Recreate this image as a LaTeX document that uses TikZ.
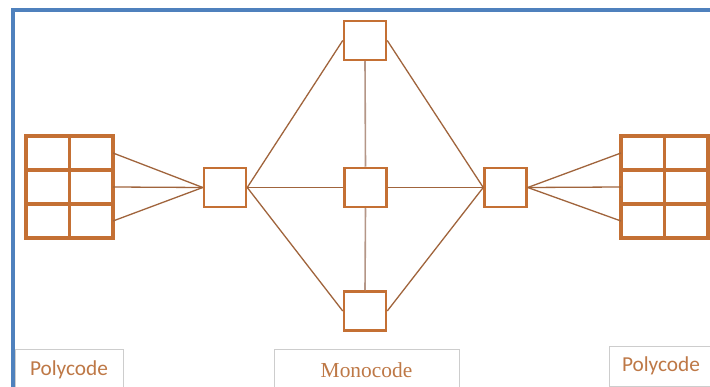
\documentclass[tikz,border=0pt]{standalone}
\usepackage{fontspec}
\setmainfont{Carlito}
\newfontfamily\serifmono{Liberation Serif}
\definecolor{boxc}{RGB}{196,112,52}
\definecolor{linec}{RGB}{160,100,60}
\definecolor{vlinec}{RGB}{180,150,135}
\definecolor{txtc}{RGB}{190,120,70}
\definecolor{framec}{RGB}{79,129,189}
\definecolor{lblc}{RGB}{205,205,205}
\tikzset{
  cell/.style={draw=boxc, line width=3.2pt, fill=white, minimum width=43.5pt, minimum height=34pt, inner sep=0pt, outer sep=0pt},
  sbox/.style={draw=boxc, line width=2.5pt, fill=white, minimum width=42pt, minimum height=39pt, inner sep=0pt},
  conn/.style={draw=linec, line width=1.3pt},
  vconn/.style={draw=vlinec, line width=1.6pt},
  lbl/.style={draw=lblc, line width=0.8pt, text=txtc, inner sep=0pt, font=\fontsize{21.3}{24}\selectfont},
}
\begin{document}
\begin{tikzpicture}[x=1pt,y=-1pt]
\useasboundingbox (0,0) rectangle (710,387);
\fill[white] (0,0) rectangle (710,387);
% frame
\draw[framec, line width=4pt] (13,392) -- (13,10) -- (714,10);
% left grid
\foreach \c/\x in {1/47.75,2/91.25}{
  \foreach \r/\y in {1/153,2/187,3/221}{
    \node[cell] (lg\r\c) at (\x,\y) {};
  }
}
% right grid
\foreach \c/\x in {1/642.75,2/686.25}{
  \foreach \r/\y in {1/153,2/187,3/221}{
    \node[cell] (rg\r\c) at (\x,\y) {};
  }
}
% small boxes
\node[sbox] (L) at (225,187.5) {};
\node[sbox] (T) at (365,40.5) {};
\node[sbox] (M) at (365.5,187.5) {};
\node[sbox] (B) at (365,311) {};
\node[sbox] (R) at (505.5,187.5) {};
% connectors
\foreach \r in {1,2,3}{
  \draw[conn] (lg\r2.east) -- (L.west);
  \draw[conn] (R.east) -- (rg\r1.west);
}
\draw[conn] (L.east) -- (T.west);
\draw[conn] (L.east) -- (M.west);
\draw[conn] (L.east) -- (B.west);
\draw[conn] (T.east) -- (R.west);
\draw[conn] (M.east) -- (R.west);
\draw[conn] (B.east) -- (R.west);
\draw[vconn] (T.south) -- (M.north);
\draw[vconn] (M.south) -- (B.north);
% labels
\node[lbl, minimum width=108pt, minimum height=42pt] (pl) at (69,370) {Polycode};
\node[lbl, minimum width=185pt, minimum height=42pt, font=\serifmono\fontsize{21.4}{24}\selectfont] (mc) at (366.5,370) {Monocode};
\node[lbl, minimum width=104pt, minimum height=40pt] (pr) at (661,366) {Polycode};
\end{tikzpicture}
\end{document}
